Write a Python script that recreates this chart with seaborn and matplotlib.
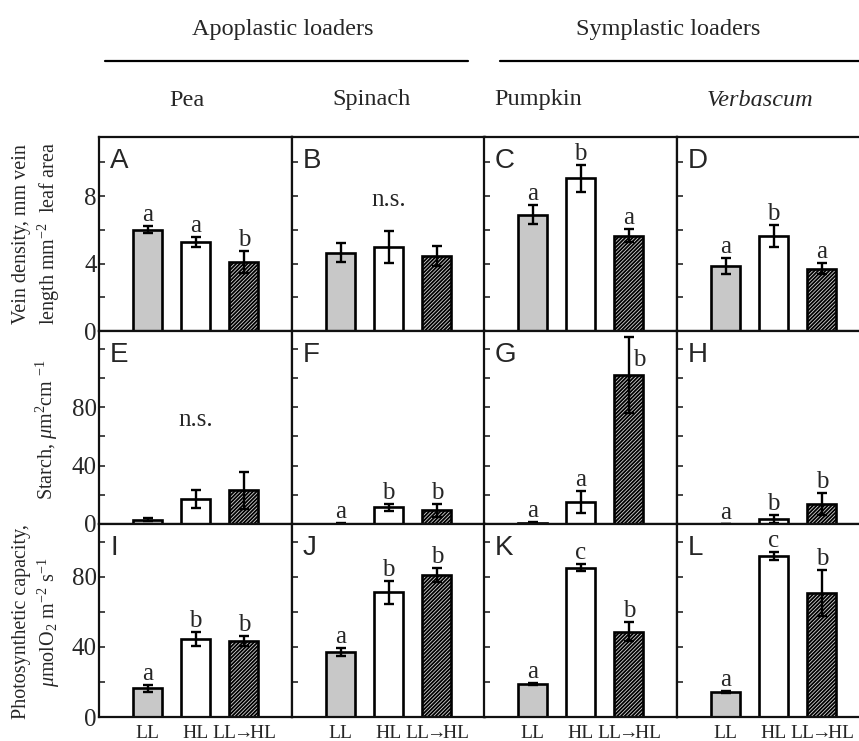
import matplotlib
matplotlib.use("Agg")
import matplotlib.pyplot as plt
from matplotlib.lines import Line2D
import seaborn as sns
import pandas as pd

# ---------------- data ----------------
species = ["Pea", "Spinach", "Pumpkin", "Verbascum"]
treatments = ["LL", "HL", "LL\u2192HL"]
tick_text = ["LL", "HL", "LL$\\!\\!\\rightarrow\\!\\!\\!$HL"]

vein_mean = [[6.0, 5.3, 4.1], [4.65, 5.0, 4.45], [6.9, 9.05, 5.65], [3.85, 5.65, 3.7]]
vein_err = [[0.22, 0.3, 0.65], [0.55, 0.95, 0.57], [0.55, 0.8, 0.4], [0.5, 0.65, 0.32]]
vein_letters = [["a", "a", "b"], None, ["a", "b", "a"], ["a", "b", "a"]]

starch_mean = [[2.8, 17.0, 23.0], [0.3, 11.5, 9.5], [1.0, 15.0, 102.0], [0.2, 3.5, 13.5]]
starch_err = [[1.0, 6.0, 12.5], [0.2, 2.5, 4.5], [0.6, 7.5, 26.0], [0.1, 2.5, 7.5]]
starch_letters = [None, ["a", "b", "b"], ["a", "a", "b"], ["a", "b", "b"]]

photo_mean = [[16.3, 44.3, 43.3], [37.3, 71.0, 81.0], [18.7, 85.0, 48.6], [14.3, 91.5, 70.7]]
photo_err = [[1.8, 4.0, 2.7], [2.3, 6.5, 4.2], [0.6, 2.0, 5.3], [0.7, 2.3, 13.0]]
photo_letters = [["a", "b", "b"], ["a", "b", "b"], ["a", "c", "b"], ["a", "c", "b"]]

panel_labels = ["A", "B", "C", "D", "E", "F", "G", "H", "I", "J", "K", "L"]

row_means = [vein_mean, starch_mean, photo_mean]
row_errs = [vein_err, starch_err, photo_err]
row_letters = [vein_letters, starch_letters, photo_letters]
row_ylim = [11.5, 132, 110]
row_ticks = [[0, 2, 4, 6, 8, 10], [0, 20, 40, 60, 80, 100, 120], [0, 20, 40, 60, 80, 100]]
row_ticklabels = [["0", "", "4", "", "8", ""], ["0", "", "40", "", "80", "", ""],
                  ["0", "", "40", "", "80", ""]]
ns_pos = {(0, 1): 7.75, (1, 0): 71}

# ---------------- style ----------------
sns.set_theme(style="white")
plt.rcParams["font.family"] = ["Liberation Serif", "DejaVu Serif"]
plt.rcParams["mathtext.fontset"] = "custom"
plt.rcParams["mathtext.rm"] = "Liberation Serif"
plt.rcParams["mathtext.it"] = "Liberation Serif:italic"
plt.rcParams["hatch.linewidth"] = 1.3
plt.rcParams["hatch.color"] = "#111111"

W, H = 859, 741
fig = plt.figure(figsize=(W / 100, H / 100), dpi=100)
fig.patch.set_facecolor("white")

col_left = [99, 292, 484, 677]
col_w = 193
row_top = [137, 331, 524]
row_h = [194, 193, 193]

for r in range(3):
    for c in range(4):
        ax = fig.add_axes([col_left[c] / W, 1 - (row_top[r] + row_h[r]) / H, col_w / W, row_h[r] / H])
        means = row_means[r][c]
        errs = row_errs[r][c]
        df = pd.DataFrame({"treatment": treatments, "value": means})
        sns.barplot(data=df, x="treatment", y="value", hue="treatment", order=treatments,
                    hue_order=treatments, palette=["#c8c8c8", "white", "white"],
                    width=0.6, edgecolor="black", linewidth=1.9, legend=False, ax=ax,
                    errorbar=None, saturation=1)
        for i, cont in enumerate(ax.containers):
            for p in cont:
                if i == 2:
                    p.set_hatch("/////////")
                    p.set_facecolor("#d8d8d8")
                p.set_edgecolor("black")
        ax.errorbar(range(3), means, yerr=errs, fmt="none", ecolor="black",
                    elinewidth=1.7, capsize=3.5, capthick=1.7, zorder=5)
        ax.set_xlim(-1.01, 3.0)
        ax.set_ylim(0, row_ylim[r])
        ax.set_yticks(row_ticks[r])
        if c == 0:
            ax.set_yticklabels(row_ticklabels[r], fontsize=18)
        else:
            ax.set_yticklabels([])
        ax.tick_params(axis="y", direction="in", length=4, width=1.2, left=True, pad=1.5)
        ax.tick_params(axis="x", length=0, pad=6)
        if r == 2:
            ax.set_xticks(range(3))
            ax.set_xticklabels(tick_text, fontsize=14)
        else:
            ax.set_xticklabels([])
        ax.set_xlabel("")
        ax.set_ylabel("")
        for s in ax.spines.values():
            s.set_linewidth(1.6)
            s.set_color("#111111")
        ax.text(0.057, 0.945, panel_labels[r * 4 + c], transform=ax.transAxes,
                ha="left", va="top", fontsize=20, family="Liberation Sans")
        letters = row_letters[r][c]
        if letters is None:
            ax.text(1, ns_pos[(r, c)], "n.s.", ha="center", va="center", fontsize=18)
        else:
            for i, lt in enumerate(letters):
                if r == 1 and c == 2 and i == 2:
                    ax.text(2.08, 112.5, lt, ha="left", va="center", fontsize=18)
                else:
                    ax.annotate(lt, (i, means[i] + errs[i]), xytext=(0, 0),
                                textcoords="offset points", ha="center", va="bottom",
                                fontsize=18)

# y labels
fig.text(37 / W, 1 - 234 / H, "Vein density, mm vein\nlength mm$^{-2}$  leaf area",
         rotation=90, ha="center", va="center", fontsize=14.5, linespacing=1.3)
fig.text(47 / W, 1 - 430 / H, "Starch, $\\mu$m$^{2}$cm $^{-1}$",
         rotation=90, ha="center", va="center", fontsize=14.5)
fig.text(37 / W, 1 - 622 / H, "Photosynthetic capacity,\n$\\mu$molO$_2$ m$^{-2}$ s$^{-1}$",
         rotation=90, ha="center", va="center", fontsize=14.5, linespacing=1.3)

# headers
fig.text(283 / W, 1 - 30 / H, "Apoplastic loaders", ha="center", va="center", fontsize=17.5)
fig.text(668 / W, 1 - 30 / H, "Symplastic loaders", ha="center", va="center", fontsize=17.5)
fig.add_artist(Line2D([105 / W, 468 / W], [1 - 61 / H, 1 - 61 / H], color="black", lw=1.6))
fig.add_artist(Line2D([500 / W, 859 / W], [1 - 61 / H, 1 - 61 / H], color="black", lw=1.6))
sp_x = [187, 372, 538, 760]
for x, name in zip(sp_x, species):
    fig.text(x / W, 1 - 100 / H, name, ha="center", va="center", fontsize=17.5,
             style="italic" if name == "Verbascum" else "normal")

fig.savefig("out.png", dpi=100)
